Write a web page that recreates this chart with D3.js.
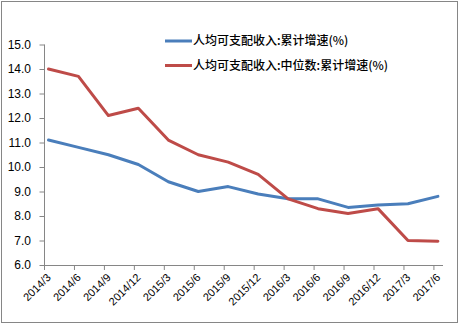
<!DOCTYPE html>
<html>
<head>
<meta charset="utf-8">
<script src="https://cdn.jsdelivr.net/npm/d3@7"></script>
<style>
  html, body { margin: 0; padding: 0; background: #fff; }
  svg { display: block; }
</style>
</head>
<body>
<script>
// Quarterly cumulative growth of per-capita disposable income (%)
const quarters = ["2014/3","2014/6","2014/9","2014/12","2015/3","2015/6","2015/9",
                  "2015/12","2016/3","2016/6","2016/9","2016/12","2017/3","2017/6"];
const meanGrowth = [11.1, 10.8, 10.5, 10.1, 9.4, 9.0, 9.2, 8.9, 8.7, 8.7, 8.35, 8.45, 8.5, 8.8];
const medianGrowth = [14.0, 13.7, 12.1, 12.4, 11.1, 10.5, 10.2, 9.7, 8.7, 8.3, 8.1, 8.3, 7.0, 6.97];
const seriesNames = ["人均可支配收入:累计增速(%)", "人均可支配收入:中位数:累计增速(%)"];
const yTicks = [6, 7, 8, 9, 10, 11, 12, 13, 14, 15];

const W = 459, H = 324;
const colors = ["#4a7ebb", "#be4b48"];
const axisColor = "#868686";

const svg = d3.select("body").append("svg").attr("width", W).attr("height", H);

// outer chart frame
svg.append("rect").attr("x", 1.5).attr("y", 1.5).attr("width", W - 3).attr("height", H - 3)
  .attr("fill", "#fff").attr("stroke", axisColor).attr("stroke-width", 1);

// category positions sit slightly right of their tick marks
const tickShift = 0.15;
const x = d3.scaleLinear().domain([-tickShift, quarters.length - 1 + 0.17]).range([44, 443]);
const y = d3.scaleLinear().domain([6, 15]).range([265, 44.5]);

// y axis
const yAxis = svg.append("g").attr("transform", "translate(44,0)")
  .call(d3.axisLeft(y).tickValues(yTicks).tickFormat(d3.format(".1f")).tickSize(5).tickPadding(8));
yAxis.select(".domain").attr("stroke", axisColor).attr("d", `M0.5,${y(15)}V${y(6)}`);
yAxis.selectAll(".tick line").attr("stroke", axisColor).attr("transform", "translate(0.5,0)");
yAxis.selectAll(".tick text").attr("font-family", "Liberation Sans, Arial, sans-serif")
  .attr("font-size", 12).attr("fill", "#000");

// x axis
const xAxis = svg.append("g").attr("transform", `translate(0,${y(6)})`)
  .call(d3.axisBottom(x)
    .tickValues(quarters.map((q, i) => i - tickShift))
    .tickFormat((d, i) => quarters[i])
    .tickSize(5).tickSizeOuter(0));
xAxis.select(".domain").attr("stroke", axisColor).attr("d", `M44,0.5H443`);
xAxis.selectAll(".tick line").attr("stroke", axisColor);
xAxis.selectAll(".tick text")
  .attr("font-family", "Liberation Sans, Arial, sans-serif")
  .attr("font-size", 11).attr("fill", "#000")
  .attr("text-anchor", "end")
  .attr("dy", null)
  .attr("transform", "translate(5,11) rotate(-45)")
  .attr("y", 0).attr("x", 0).attr("dominant-baseline", "middle");

// series lines
const line = d3.line().x((d, i) => x(i)).y(d => y(d));
[meanGrowth, medianGrowth].forEach((vals, k) => {
  svg.append("path").datum(vals)
    .attr("fill", "none").attr("stroke", colors[k]).attr("stroke-width", 3)
    .attr("stroke-linejoin", "round").attr("stroke-linecap", "round")
    .attr("d", line);
});

// legend
const legend = svg.append("g");
seriesNames.forEach((name, k) => {
  const ly = 41 + k * 24.5;
  legend.append("line").attr("x1", 165).attr("x2", 192).attr("y1", ly).attr("y2", ly)
    .attr("stroke", colors[k]).attr("stroke-width", 3);
  legend.append("text").attr("x", 193).attr("y", ly).attr("dy", "0.35em")
    .attr("font-family", "Noto Sans CJK SC, sans-serif").attr("font-size", 12)
    .attr("font-weight", 500)
    .attr("fill", "#000").text(name);
});
</script>
</body>
</html>
